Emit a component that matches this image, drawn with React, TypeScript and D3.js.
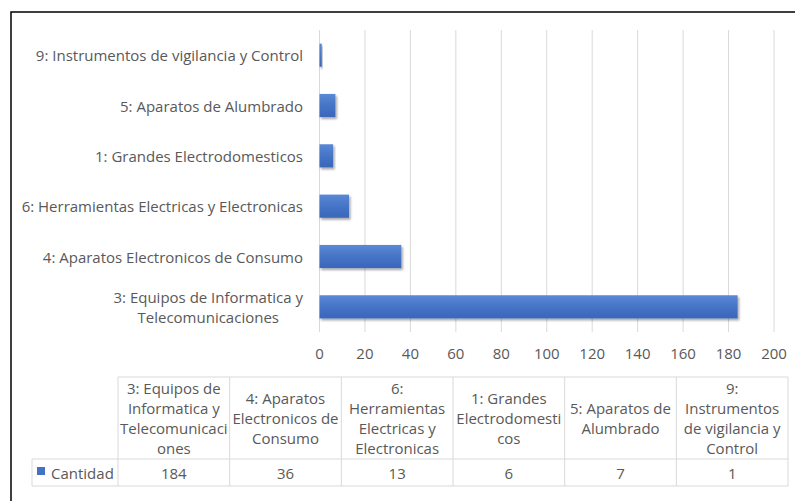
import React from "react";
import * as d3 from "d3";

const categories = [
  "9: Instrumentos de vigilancia y Control",
  "5: Aparatos de Alumbrado",
  "1: Grandes Electrodomesticos",
  "6: Herramientas Electricas y Electronicas",
  "4: Aparatos Electronicos de Consumo",
  "3: Equipos de Informatica y Telecomunicaciones",
];
const values = [1, 7, 6, 13, 36, 184];
const categoryLabelLines = [
  ["9: Instrumentos de vigilancia y Control"],
  ["5: Aparatos de Alumbrado"],
  ["1: Grandes Electrodomesticos"],
  ["6: Herramientas Electricas y Electronicas"],
  ["4: Aparatos Electronicos de Consumo"],
  ["3: Equipos de Informatica y", "Telecomunicaciones"],
];
const xTicks = [0, 20, 40, 60, 80, 100, 120, 140, 160, 180, 200];

const tableOrder = [5, 4, 3, 2, 1, 0];
const tableHeaderLines = [
  ["3: Equipos de", "Informatica y", "Telecomunicaci", "ones"],
  ["4: Aparatos", "Electronicos de", "Consumo"],
  ["6:", "Herramientas", "Electricas y", "Electronicas"],
  ["1: Grandes", "Electrodomesti", "cos"],
  ["5: Aparatos de", "Alumbrado"],
  ["9:", "Instrumentos", "de vigilancia y", "Control"],
];
const seriesName = "Cantidad";

const FONT = "'Open Sans', Lato, sans-serif";
const TEXT = "#595959";
const GRID = "#d9d9d9";
const FS = 15;

function measure(text: string): number {
  if (typeof document === "undefined") return text.length * 7;
  const c = document.createElement("canvas");
  const ctx = c.getContext("2d");
  if (!ctx) return text.length * 7;
  ctx.font = `${FS}px 'Open Sans'`;
  return ctx.measureText(text).width;
}

export default function App() {
  const x = d3.scaleLinear().domain([0, 200]).range([319.5, 774]);
  const y = d3
    .scaleBand<string>()
    .domain(categories)
    .range([30, 332])
    .paddingInner(0.54)
    .paddingOuter(0.27);

  const colX = d3
    .scaleBand<number>()
    .domain(tableOrder)
    .range([118, 788]);
  const tableTop = 377;
  const headerBottom = 459;
  const tableBottom = 486;
  const lineH = 20;
  const labelRight = 303;

  return (
    <svg
      width={795}
      height={501}
      style={{ position: "absolute", left: 0, top: 0, background: "#fff" }}
      fontFamily={FONT}
    >
      <defs>
        <linearGradient id="barGrad" x1="0" y1="0" x2="0" y2="1">
          <stop offset="0" stopColor="#5a89d6" />
          <stop offset="0.5" stopColor="#4674c6" />
          <stop offset="1" stopColor="#3a66ba" />
        </linearGradient>
        <filter id="shadow" x="-10%" y="-30%" width="130%" height="180%">
          <feDropShadow dx="1.5" dy="2" stdDeviation="1.2" floodColor="#000" floodOpacity="0.35" />
        </filter>
      </defs>
      <rect x={0} y={0} width={795} height={501} fill="#fff" />
      <rect x={11} y={12} width={800} height={500} fill="none" stroke="#000" strokeWidth={1.5} />

      {xTicks.map((t) => (
        <line key={"g" + t} x1={x(t)} x2={x(t)} y1={30} y2={332} stroke={GRID} strokeWidth={1} />
      ))}
      {xTicks.map((t) => (
        <text
          key={"t" + t}
          x={x(t)}
          y={353}
          textAnchor="middle"
          dominantBaseline="central"
          fontSize={FS}
          fill={TEXT}
        >
          {t}
        </text>
      ))}

      {categories.map((c, i) => (
        <rect
          key={"b" + c}
          x={x(0)}
          y={y(c)!}
          width={x(values[i]) - x(0)}
          height={y.bandwidth()}
          fill="url(#barGrad)"
          filter="url(#shadow)"
        />
      ))}

      {categories.map((c, i) => {
        const lines = categoryLabelLines[i];
        const cy = y(c)! + y.bandwidth() / 2;
        if (lines.length === 1) {
          return (
            <text
              key={"l" + c}
              x={labelRight}
              y={cy}
              textAnchor="end"
              dominantBaseline="central"
              fontSize={FS}
              fill={TEXT}
            >
              {lines[0]}
            </text>
          );
        }
        const maxW = Math.max(...lines.map(measure));
        const cx = labelRight - maxW / 2;
        return (
          <text key={"l" + c} x={cx} textAnchor="middle" fontSize={FS} fill={TEXT}>
            {lines.map((ln, j) => (
              <tspan
                key={j}
                x={cx}
                y={cy + (j - (lines.length - 1) / 2) * lineH}
                dominantBaseline="central"
              >
                {ln}
              </tspan>
            ))}
          </text>
        );
      })}

      {/* table */}
      <g stroke={GRID} strokeWidth={1} fill="none">
        <line x1={118} x2={788} y1={tableTop} y2={tableTop} />
        <line x1={32} x2={788} y1={headerBottom} y2={headerBottom} />
        <line x1={32} x2={788} y1={tableBottom} y2={tableBottom} />
        <line x1={32} x2={32} y1={headerBottom} y2={tableBottom} />
        {tableOrder.map((k) => (
          <line key={"v" + k} x1={colX(k)!} x2={colX(k)!} y1={tableTop} y2={tableBottom} />
        ))}
        <line x1={788} x2={788} y1={tableTop} y2={tableBottom} />
      </g>
      {tableOrder.map((k, ci) => {
        const lines = tableHeaderLines[ci];
        const cx = colX(k)! + colX.bandwidth() / 2;
        const cy = (tableTop + headerBottom) / 2;
        return (
          <text key={"h" + k} textAnchor="middle" fontSize={FS} fill={TEXT}>
            {lines.map((ln, j) => (
              <tspan
                key={j}
                x={cx}
                y={cy + (j - (lines.length - 1) / 2) * lineH}
                dominantBaseline="central"
              >
                {ln}
              </tspan>
            ))}
          </text>
        );
      })}
      {tableOrder.map((k) => (
        <text
          key={"d" + k}
          x={colX(k)! + colX.bandwidth() / 2}
          y={(headerBottom + tableBottom) / 2}
          textAnchor="middle"
          dominantBaseline="central"
          fontSize={FS}
          fill={TEXT}
        >
          {values[k]}
        </text>
      ))}
      <rect x={37} y={467} width={8} height={8} fill="#4472c4" />
      <text x={51} y={(headerBottom + tableBottom) / 2} dominantBaseline="central" fontSize={FS} fill={TEXT}>
        {seriesName}
      </text>
    </svg>
  );
}
